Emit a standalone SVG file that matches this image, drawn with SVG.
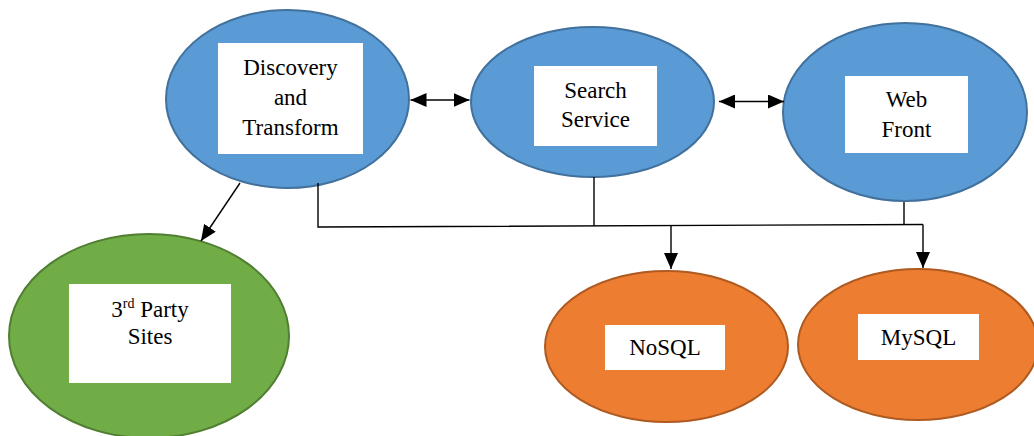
<svg xmlns="http://www.w3.org/2000/svg" width="1034" height="436" viewBox="0 0 1034 436">
<style>
.blue{fill:#5B9BD5;stroke:#41719C;stroke-width:2}
.green{fill:#70AD47;stroke:#507E32;stroke-width:2}
.orange{fill:#ED7D31;stroke:#AE5A21;stroke-width:2}
.box{fill:#FFFFFF;stroke:none}
.lbl{font-family:"Liberation Serif","Times New Roman",serif;font-size:23px;fill:#000;text-anchor:middle}
.ln{fill:none;stroke:#000;stroke-width:1.4}
</style>
<defs>
<marker id="ah" markerUnits="userSpaceOnUse" markerWidth="16" markerHeight="14" refX="16" refY="7" orient="auto-start-reverse" viewBox="0 0 16 14">
<path d="M0,0 L16,7 L0,14 Z" fill="#000"/>
</marker>
</defs>
<rect width="1034" height="436" fill="#FFFFFF"/>
<g id="discovery">
<ellipse class="blue" cx="287.5" cy="99" rx="121.5" ry="89"/>
<rect class="box" x="218" y="43" width="145" height="111"/>
<text class="lbl" x="290.5" y="75">Discovery</text>
<text class="lbl" x="290.5" y="105">and</text>
<text class="lbl" x="290.5" y="135">Transform</text>
</g>
<g id="search">
<ellipse class="blue" cx="592.5" cy="102" rx="121.5" ry="75"/>
<rect class="box" x="534" y="66" width="123" height="80"/>
<text class="lbl" x="595.5" y="98">Search</text>
<text class="lbl" x="595.5" y="127">Service</text>
</g>
<g id="webfront">
<ellipse class="blue" cx="905" cy="112" rx="122" ry="89"/>
<rect class="box" x="845" y="76" width="123" height="77"/>
<text class="lbl" x="906.5" y="107">Web</text>
<text class="lbl" x="906.5" y="137">Front</text>
</g>
<g id="thirdparty">
<ellipse class="green" cx="149" cy="336" rx="140" ry="102"/>
<rect class="box" x="69" y="284" width="162" height="99"/>
<text class="lbl" x="150" y="317">3<tspan font-size="14" dy="-9">rd</tspan><tspan dy="9"> Party</tspan></text>
<text class="lbl" x="150" y="344">Sites</text>
</g>
<g id="nosql">
<ellipse class="orange" cx="666.5" cy="346.5" rx="121.5" ry="75.5"/>
<rect class="box" x="605" y="325" width="120" height="45"/>
<text class="lbl" x="665" y="355">NoSQL</text>
</g>
<g id="mysql">
<ellipse class="orange" cx="918" cy="344.5" rx="120" ry="75.5"/>
<rect class="box" x="858" y="314" width="121" height="46"/>
<text class="lbl" x="918.5" y="345">MySQL</text>
</g>
<g id="connectors">
<line class="ln" x1="410.5" y1="100" x2="469.5" y2="100" marker-start="url(#ah)" marker-end="url(#ah)"/>
<line class="ln" x1="719" y1="101.5" x2="784" y2="101.5" marker-start="url(#ah)" marker-end="url(#ah)"/>
<line class="ln" x1="240" y1="183" x2="201" y2="241" marker-end="url(#ah)"/>
<polyline class="ln" points="318,183 318,227 923,224.5"/>
<line class="ln" x1="594" y1="177" x2="594" y2="226"/>
<line class="ln" x1="904" y1="202" x2="904" y2="224.5"/>
<line class="ln" x1="671" y1="225.5" x2="671" y2="269" marker-end="url(#ah)"/>
<line class="ln" x1="923" y1="224.5" x2="923" y2="268" marker-end="url(#ah)"/>
</g>
</svg>
